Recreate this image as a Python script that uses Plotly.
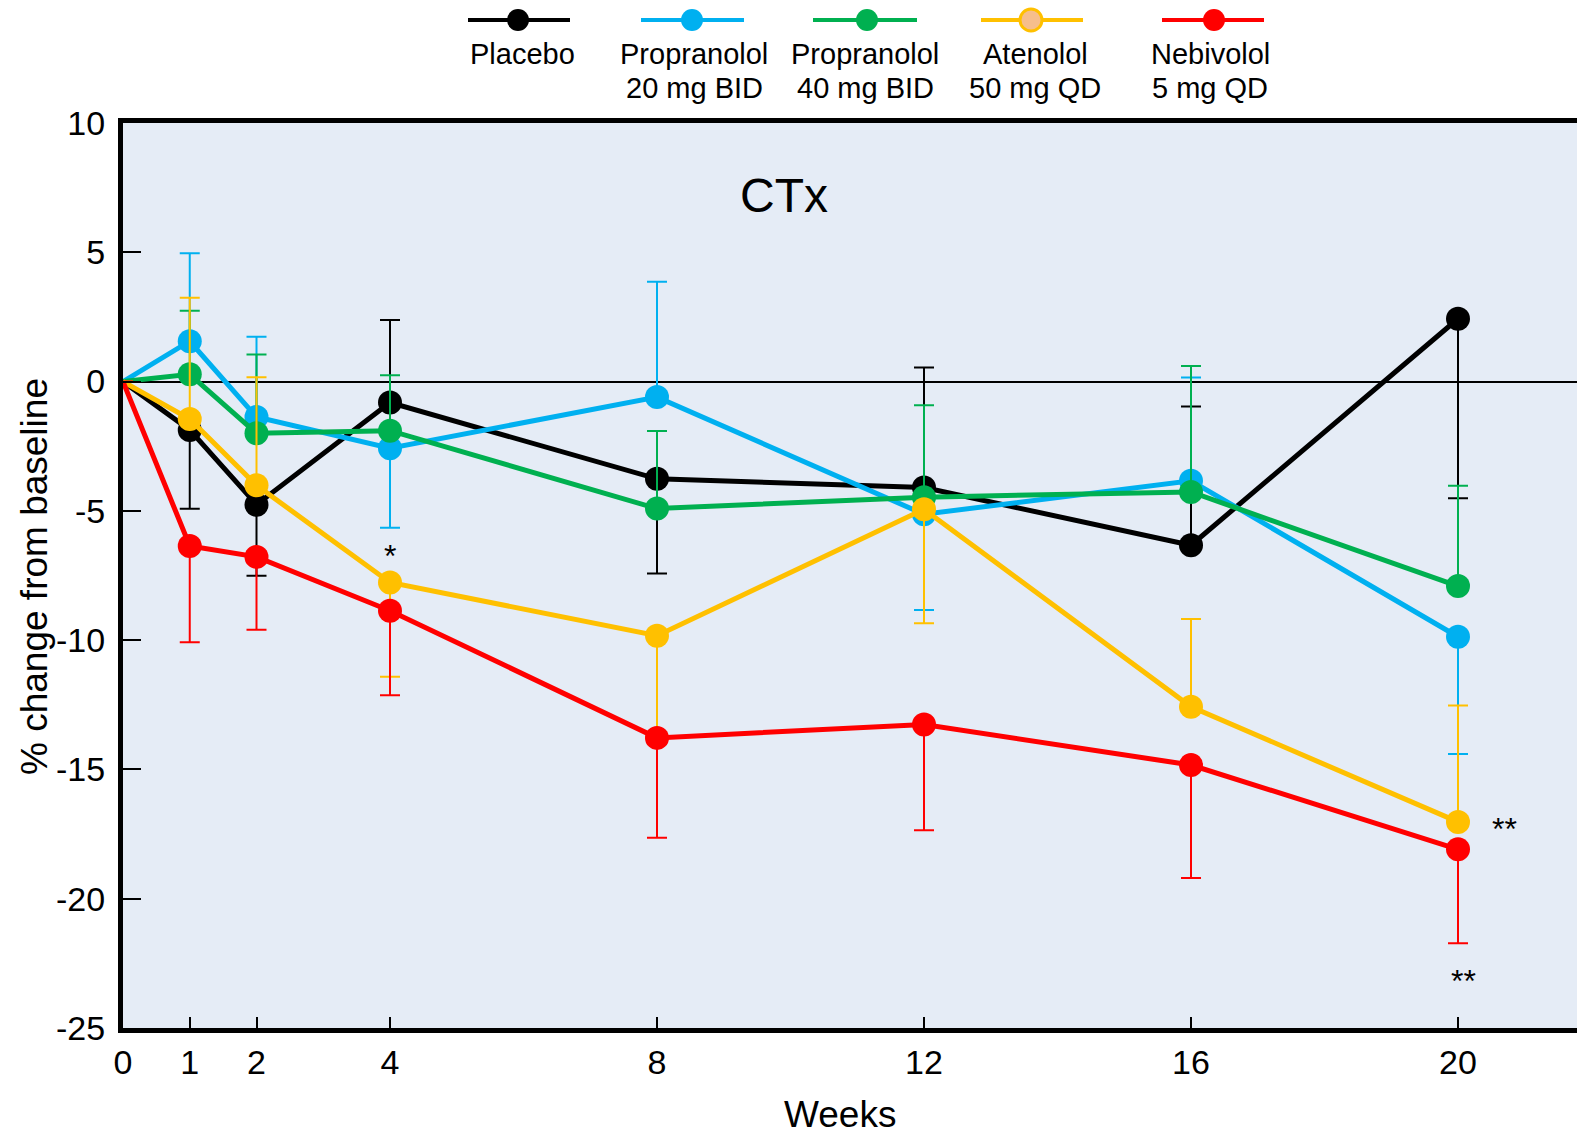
import plotly.graph_objects as go

# ---------------- data ----------------
weeks = [0, 1, 2, 4, 8, 12, 16, 20]
week_labels = ["0", "1", "2", "4", "8", "12", "16", "20"]

placebo = [0, -1.87, -4.76, -0.81, -3.76, -4.10, -6.33, 2.43]
placebo_up = [None, 0, 0, 3.19, 0, 4.64, 5.37, 0]
placebo_dn = [None, 3.05, 2.75, 0, 3.66, 0, 0, 6.94]

prop20 = [0, 1.56, -1.37, -2.58, -0.60, -5.13, -3.84, -9.87]
prop20_up = [None, 3.40, 3.10, 0, 4.46, 0, 4.00, 0]
prop20_dn = [None, 0, 0, 3.07, 0, 3.70, 0, 4.53]

prop40 = [0, 0.28, -2.00, -1.90, -4.91, -4.47, -4.27, -7.91]
prop40_up = [None, 2.46, 3.05, 2.14, 3.00, 3.55, 4.87, 3.88]
prop40_dn = [None, 0, 0, 0, 0, 0, 0, 0]

aten = [0, -1.45, -4.01, -7.77, -9.83, -4.94, -12.58, -17.03]
aten_up = [None, 4.69, 4.18, 0, 0, 0, 3.40, 4.50]
aten_dn = [None, 0, 0, 3.65, 4.17, 4.41, 0, 0]

nebi = [0, -6.36, -6.78, -8.86, -13.78, -13.26, -14.83, -18.09]
nebi_up = [None, 0, 0, 0, 0, 0, 0, 0]
nebi_dn = [None, 3.72, 2.82, 3.27, 3.86, 4.09, 4.37, 3.63]

series_names = ["Placebo", "Propranolol 20 mg BID", "Propranolol 40 mg BID",
                "Atenolol 50 mg QD", "Nebivolol 5 mg QD"]
legend_line1 = ["Placebo", "Propranolol", "Propranolol", "Atenolol", "Nebivolol"]
legend_line2 = ["", "20 mg BID", "40 mg BID", "50 mg QD", "5 mg QD"]
colors = ["#000000", "#00B0F0", "#00B050", "#FFC000", "#FF0000"]
values = [placebo, prop20, prop40, aten, nebi]
ups = [placebo_up, prop20_up, prop40_up, aten_up, nebi_up]
dns = [placebo_dn, prop20_dn, prop40_dn, aten_dn, nebi_dn]

y_ticks = [-25, -20, -15, -10, -5, 0, 5, 10]
y_labels = ["-25", "-20", "-15", "-10", "-5", "0", "5", "10"]

# ---------------- layout geometry ----------------
W, H = 1577, 1138
ML, MT, MR, MB = 123, 123, 0, 110
PW = W - ML - MR
PH = H - MT - MB
FONT = "Liberation Sans, Arial, sans-serif"


def px_x(p):
    return (p - ML) / PW


def px_y(p):
    return (H - MB - p) / PH


fig = go.Figure()

for name, col, v, u, d in zip(series_names, colors, values, ups, dns):
    sizes = [0] + [24] * (len(v) - 1)
    fig.add_trace(go.Scatter(
        x=weeks, y=v, name=name, mode="lines+markers",
        line=dict(color=col, width=5),
        marker=dict(color=col, size=sizes, opacity=1, line=dict(width=0)),
        error_y=dict(type="data", symmetric=False, array=u, arrayminus=d,
                     color=col, thickness=2, width=10),
        showlegend=False,
    ))

# ---------------- custom legend (glyph above text) ----------------
leg_line = [(468, 570), (641, 744), (813, 917), (981, 1083), (1162, 1264)]
leg_mark = [518, 692, 867, 1031, 1214]
leg_text = [522, 694, 865, 1035, 1210]
shapes = []
annotations = []
for i, col in enumerate(colors):
    x0, x1 = leg_line[i]
    shapes.append(dict(type="line", xref="paper", yref="paper",
                       x0=px_x(x0), x1=px_x(x1), y0=px_y(20), y1=px_y(20),
                       line=dict(color=col, width=4)))
    fill = "#F6BE8C" if i == 3 else col
    lw = 3 if i == 3 else 0
    shapes.append(dict(type="circle", xref="paper", yref="paper",
                       xsizemode="pixel", ysizemode="pixel",
                       xanchor=px_x(leg_mark[i]), yanchor=px_y(20),
                       x0=-11, x1=11, y0=-11, y1=11,
                       fillcolor=fill, line=dict(color=col, width=lw)))
    annotations.append(dict(text=legend_line1[i], xref="paper", yref="paper",
                            x=px_x(leg_text[i]), y=px_y(54), showarrow=False,
                            xanchor="center", yanchor="middle",
                            font=dict(family=FONT, size=29, color="black")))
    if legend_line2[i]:
        annotations.append(dict(text=legend_line2[i], xref="paper", yref="paper",
                                x=px_x(leg_text[i]), y=px_y(88), showarrow=False,
                                xanchor="center", yanchor="middle",
                                font=dict(family=FONT, size=29, color="black")))

# title inside plot
annotations.append(dict(text="CTx", xref="paper", yref="paper",
                        x=px_x(784), y=px_y(196), showarrow=False,
                        xanchor="center", yanchor="middle",
                        font=dict(family=FONT, size=48, color="black")))
# axis titles
annotations.append(dict(text="Weeks", xref="paper", yref="paper",
                        x=px_x(840), y=px_y(1114), showarrow=False,
                        xanchor="center", yanchor="middle",
                        font=dict(family=FONT, size=37, color="black")))
annotations.append(dict(text="% change from baseline", xref="paper", yref="paper",
                        x=px_x(34), y=px_y(577), showarrow=False, textangle=-90,
                        xanchor="center", yanchor="middle",
                        font=dict(family=FONT, size=37, color="black")))
# significance markers
annotations.append(dict(text="*", x=4, y=-6.75, showarrow=False,
                        font=dict(family=FONT, size=32, color="black")))
annotations.append(dict(text="**", x=20.7, y=-17.3, showarrow=False,
                        font=dict(family=FONT, size=32, color="black")))
annotations.append(dict(text="**", x=20.08, y=-23.2, showarrow=False,
                        font=dict(family=FONT, size=32, color="black")))

fig.update_layout(
    width=W, height=H,
    margin=dict(l=ML, r=MR, t=MT, b=MB, autoexpand=False),
    paper_bgcolor="white",
    plot_bgcolor="#E5ECF6",
    font=dict(family=FONT, color="black"),
    shapes=shapes,
    annotations=annotations,
    showlegend=False,
)

fig.update_xaxes(
    range=[0, (W - MR - ML) / 66.75], tickvals=weeks, ticktext=week_labels,
    ticks="inside", ticklen=11, tickwidth=1.5, tickcolor="black",
    showline=True, linewidth=5, linecolor="black", mirror=True,
    showgrid=False, zeroline=False, automargin=False,
    tickfont=dict(family=FONT, size=34, color="black"),
)
fig.update_yaxes(
    range=[-25, 10], tickvals=y_ticks, ticktext=y_labels,
    ticks="inside", ticklen=18, tickwidth=1.5, tickcolor="black",
    showline=True, linewidth=5, linecolor="black", mirror=False,
    showgrid=False, zeroline=True, zerolinecolor="black", zerolinewidth=1.5,
    automargin=False, ticklabelstandoff=6,
    tickfont=dict(family=FONT, size=34, color="black"),
)

fig.write_html("out.html")
